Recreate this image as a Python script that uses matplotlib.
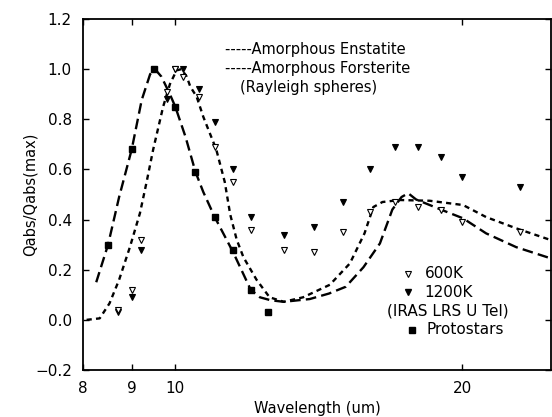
import numpy as np
import matplotlib
matplotlib.use("Agg")
import matplotlib.pyplot as plt
from matplotlib.ticker import FixedLocator, NullLocator, FixedFormatter

# ---- data ----
# protostars (filled squares)
wl_proto = [8.5, 9.0, 9.5, 10.0, 10.5, 11.0, 11.5, 12.0, 12.5]
q_proto = [0.30, 0.68, 1.00, 0.85, 0.59, 0.41, 0.28, 0.12, 0.03]

# IRAS LRS U Tel, 600K (open) and 1200K (filled)
wl_lrs = [8.7, 9.0, 9.2, 9.8, 10.0, 10.2, 10.6, 11.0, 11.5, 12.0,
          13.0, 14.0, 15.0, 16.0, 17.0, 18.0, 19.0, 20.0, 23.0]
q_600 = [0.04, 0.12, 0.32, 0.91, 1.00, 0.97, 0.89, 0.69, 0.55, 0.36,
         0.28, 0.27, 0.35, 0.43, 0.47, 0.45, 0.44, 0.39, 0.35]
q_1200 = [0.03, 0.09, 0.28, 0.88, 1.00, 1.00, 0.92, 0.79, 0.60, 0.41,
          0.34, 0.37, 0.47, 0.60, 0.69, 0.69, 0.65, 0.57, 0.53]

# amorphous enstatite curve (long dashes)
wl_ens = [8.26, 8.5, 8.73, 9.0, 9.22, 9.41, 9.52, 9.67, 9.87, 10.0, 10.25,
          10.5, 10.7, 11.0, 11.5, 12.0, 12.27, 12.6, 13.0, 13.84, 14.5,
          15.1, 15.76, 16.4, 16.9, 17.28, 17.56, 17.9, 19.0, 20.05, 21.2,
          22.8, 24.8, 25.2]
q_ens = [0.15, 0.30, 0.49, 0.68, 0.877, 0.98, 1.00, 0.97, 0.90, 0.85, 0.73,
         0.59, 0.51, 0.41, 0.27, 0.12, 0.09, 0.078, 0.072, 0.083, 0.105,
         0.132, 0.21, 0.305, 0.44, 0.49, 0.505, 0.48, 0.44, 0.405, 0.345,
         0.29, 0.245, 0.235]

# amorphous forsterite curve (short dashes)
wl_for = [8.07, 8.33, 8.53, 8.73, 8.96, 9.18, 9.33, 9.48, 9.71, 9.87, 10.03,
          10.15, 10.28, 10.37, 10.53, 10.7, 11.04, 11.27, 11.42, 11.6, 11.79,
          12.17, 12.56, 13.0, 13.62, 14.53, 15.25, 15.8, 16.14, 16.5, 17.2,
          18.5, 20.05, 21.2, 22.8, 24.8, 25.2]
q_for = [0.00, 0.006, 0.066, 0.16, 0.29, 0.425, 0.55, 0.68, 0.85, 0.94, 0.995,
         1.00, 0.97, 0.93, 0.89, 0.81, 0.68, 0.55, 0.42, 0.32, 0.25,
         0.16, 0.09, 0.072, 0.09, 0.14, 0.225, 0.345, 0.45, 0.47, 0.478,
         0.475, 0.458, 0.41, 0.365, 0.318, 0.31]

xticks = [8, 9, 10, 20]
xticklabels = ["8", "9", "10", "20"]

# ---- figure ----
plt.rcParams['font.family'] = 'DejaVu Sans'
fig = plt.figure(figsize=(5.52, 4.17), dpi=100)
ax = fig.add_axes([83/552, 1 - 370/417, 468/552, 351/417])

ax.plot(wl_ens, q_ens, color='k', lw=1.7, dashes=(4.5, 2.2))
ax.plot(wl_for, q_for, color='k', lw=1.7, dashes=(2.2, 1.8))

ax.plot(wl_lrs, q_1200, 'v', color='k', ms=5, mew=0.8, ls='none')
ax.plot(wl_lrs, q_600, 'v', mfc='white', mec='k', ms=5, mew=0.8, ls='none')
ax.plot(wl_proto, q_proto, 's', color='k', ms=4.2, ls='none')

ax.set_xscale('log')
ax.set_xlim(8, 24.8)
ax.set_ylim(-0.2, 1.2)
ax.xaxis.set_major_locator(FixedLocator(xticks))
ax.xaxis.set_major_formatter(FixedFormatter(xticklabels))
ax.xaxis.set_minor_locator(NullLocator())
yt = np.arange(-0.2, 1.21, 0.2)
ax.set_yticks(yt)
ax.set_yticklabels(['{:.1f}'.format(v).replace('-', '\u2212') for v in yt])
ax.tick_params(direction='in', length=4.5, width=1, top=True, right=True,
               labelsize=11, pad=8)
for s in ax.spines.values():
    s.set_linewidth(1.3)

ax.set_xlabel('Wavelength (um)', fontsize=10.5)
ax.xaxis.set_label_coords(0.5, -0.089)
ax.set_ylabel('Qabs/Qabs(max)', fontsize=10.5)
ax.yaxis.set_label_coords(-0.096, 0.5)

# curve labels
ax.text(0.303, 0.912, '-----Amorphous Enstatite', transform=ax.transAxes,
        fontsize=10.5, va='center')
ax.text(0.303, 0.860, '-----Amorphous Forsterite', transform=ax.transAxes,
        fontsize=10.5, va='center')
ax.text(0.335, 0.806, '(Rayleigh spheres)', transform=ax.transAxes,
        fontsize=10.5, va='center')

# symbol key
ax.plot([0.694], [0.274], 'v', mfc='white', mec='k', ms=5, mew=0.8,
        transform=ax.transAxes)
ax.text(0.73, 0.274, '600K', transform=ax.transAxes, fontsize=11, va='center')
ax.plot([0.694], [0.222], 'v', color='k', ms=5, transform=ax.transAxes)
ax.text(0.73, 0.222, '1200K', transform=ax.transAxes, fontsize=11, va='center')
ax.text(0.65, 0.168, '(IRAS LRS U Tel)', transform=ax.transAxes, fontsize=11,
        va='center')
ax.plot([0.703], [0.114], 's', color='k', ms=4.2, transform=ax.transAxes)
ax.text(0.735, 0.114, 'Protostars', transform=ax.transAxes, fontsize=11,
        va='center')

fig.savefig('out.png', dpi=100)
